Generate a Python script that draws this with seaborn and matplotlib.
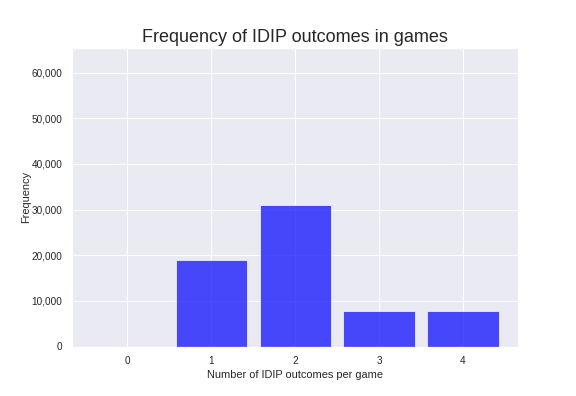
import numpy as np
import pandas as pd
import matplotlib.pyplot as plt
import seaborn as sns
from matplotlib.ticker import FuncFormatter

# outcomes per game and how many games had that many
outcomes = [0, 1, 2, 3, 4]
counts = [0, 19000, 31100, 7830, 7830]

df = pd.DataFrame({'outcomes': outcomes, 'count': counts})

sns.set_theme(style="darkgrid")
plt.rcParams['font.family'] = ['Liberation Sans', 'DejaVu Sans']

fig, ax = plt.subplots(figsize=(8, 5.5), dpi=72)
fig.subplots_adjust(left=0.125, right=0.9, bottom=0.125, top=0.88)

sns.barplot(data=df, x='outcomes', y='count', color='blue', alpha=0.7,
            width=0.85, saturation=1, ax=ax)

ax.set_xlim(-0.66, 4.66)
ax.set_ylim(0, 65500)
ax.set_yticks([0, 10000, 20000, 30000, 40000, 50000, 60000])
ax.yaxis.set_major_formatter(FuncFormatter(lambda v, p: f"{int(v):,}"))
ax.tick_params(labelsize=10, colors='.15')
# barplot switches off the vertical grid, the original keeps it
ax.grid(True, axis='x', color='white')
ax.set_axisbelow(True)

ax.set_title("Frequency of IDIP outcomes in games", fontsize=18, color='.15')
ax.set_xlabel("Number of IDIP outcomes per game", fontsize=11)
ax.set_ylabel("Frequency", fontsize=11, labelpad=1)

plt.savefig("out.png", dpi=72)
